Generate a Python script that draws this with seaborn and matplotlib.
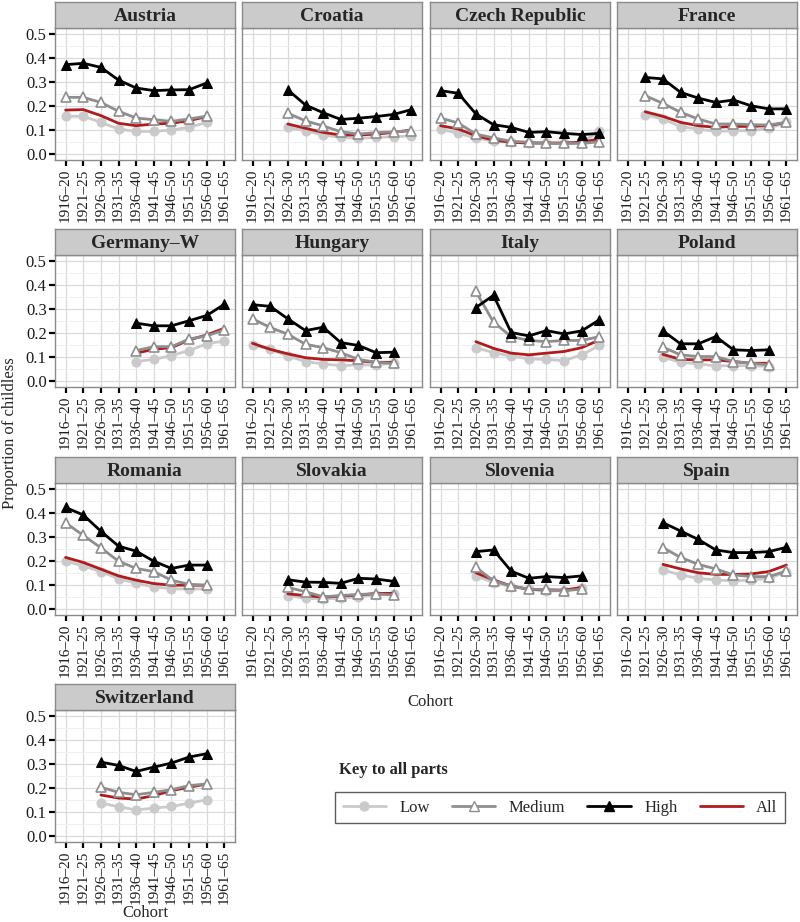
import numpy as np
import pandas as pd
import matplotlib
matplotlib.use("Agg")
import matplotlib.pyplot as plt
import seaborn as sns
from matplotlib.lines import Line2D

cohorts = ["1916–20", "1921–25", "1926–30", "1931–35", "1936–40",
           "1941–45", "1946–50", "1951–55", "1956–60", "1961–65"]
countries = ["Austria", "Croatia", "Czech Republic", "France",
             "Germany–W", "Hungary", "Italy", "Poland",
             "Romania", "Slovakia", "Slovenia", "Spain", "Switzerland"]
levels = ["Low", "Medium", "High", "All"]
yticks = [0.0, 0.1, 0.2, 0.3, 0.4, 0.5]
N = np.nan

low = {
    "Austria":        [0.158, 0.157, 0.132, 0.104, 0.094, 0.094, 0.100, 0.111, 0.132, N],
    "Croatia":        [N, N, 0.111, 0.097, 0.079, 0.069, 0.065, 0.069, 0.072, 0.075],
    "Czech Republic": [0.104, 0.086, 0.067, 0.053, 0.049, 0.044, 0.044, 0.044, 0.049, 0.094],
    "France":         [N, 0.164, 0.146, 0.114, 0.104, 0.094, 0.097, 0.097, 0.107, 0.132],
    "Germany–W":      [N, N, N, N, 0.081, 0.090, 0.106, 0.127, 0.155, 0.167],
    "Hungary":        [0.150, 0.132, 0.104, 0.081, 0.071, 0.064, 0.067, 0.067, 0.074, N],
    "Italy":          [N, N, 0.139, 0.118, 0.104, 0.092, 0.090, 0.085, 0.109, 0.148],
    "Poland":         [N, N, 0.099, 0.078, 0.071, 0.063, 0.064, 0.064, 0.060, N],
    "Romania":        [0.199, 0.180, 0.155, 0.127, 0.107, 0.092, 0.085, 0.082, 0.085, N],
    "Slovakia":       [N, N, 0.056, 0.044, 0.042, 0.044, 0.051, 0.058, 0.061, N],
    "Slovenia":       [N, N, 0.138, 0.110, 0.093, 0.082, 0.075, 0.076, 0.086, N],
    "Spain":          [N, N, 0.163, 0.142, 0.128, 0.121, 0.117, 0.121, 0.128, 0.155],
    "Switzerland":    [N, N, 0.137, 0.122, 0.109, 0.116, 0.123, 0.137, 0.151, N],
}
medium = {
    "Austria":        [0.236, 0.236, 0.215, 0.178, 0.150, 0.143, 0.136, 0.146, 0.158, N],
    "Croatia":        [N, N, 0.170, 0.138, 0.117, 0.093, 0.083, 0.089, 0.092, 0.097],
    "Czech Republic": [0.150, 0.129, 0.083, 0.067, 0.053, 0.049, 0.044, 0.044, 0.044, 0.051],
    "France":         [N, 0.243, 0.211, 0.174, 0.146, 0.125, 0.125, 0.122, 0.121, 0.132],
    "Germany–W":      [N, N, N, N, 0.127, 0.143, 0.143, 0.175, 0.188, 0.213],
    "Hungary":        [0.259, 0.223, 0.195, 0.153, 0.139, 0.118, 0.090, 0.078, 0.073, N],
    "Italy":          [N, N, 0.373, 0.245, 0.185, 0.169, 0.164, 0.169, 0.169, 0.185],
    "Poland":         [N, N, 0.141, 0.109, 0.102, 0.102, 0.081, 0.074, 0.067, N],
    "Romania":        [0.359, 0.307, 0.255, 0.199, 0.169, 0.156, 0.120, 0.103, 0.099, N],
    "Slovakia":       [N, N, 0.090, 0.072, 0.051, 0.056, 0.061, 0.063, 0.058, N],
    "Slovenia":       [N, N, 0.174, 0.117, 0.096, 0.082, 0.082, 0.076, 0.083, N],
    "Spain":          [N, N, 0.256, 0.215, 0.186, 0.167, 0.142, 0.135, 0.135, 0.158],
    "Switzerland":    [N, N, 0.203, 0.182, 0.172, 0.182, 0.193, 0.210, 0.217, N],
}
high = {
    "Austria":        [0.372, 0.378, 0.361, 0.308, 0.275, 0.264, 0.267, 0.268, 0.296, N],
    "Croatia":        [N, N, 0.267, 0.204, 0.172, 0.144, 0.149, 0.156, 0.165, 0.185],
    "Czech Republic": [0.264, 0.253, 0.167, 0.122, 0.111, 0.090, 0.093, 0.086, 0.081, 0.086],
    "France":         [N, 0.319, 0.313, 0.257, 0.233, 0.215, 0.225, 0.201, 0.188, 0.188],
    "Germany–W":      [N, N, N, N, 0.241, 0.230, 0.230, 0.251, 0.273, 0.320],
    "Hungary":        [0.318, 0.311, 0.259, 0.210, 0.224, 0.160, 0.148, 0.118, 0.120, N],
    "Italy":          [N, N, 0.306, 0.357, 0.202, 0.188, 0.210, 0.196, 0.209, 0.255],
    "Poland":         [N, N, 0.209, 0.155, 0.155, 0.185, 0.130, 0.127, 0.130, N],
    "Romania":        [0.423, 0.392, 0.324, 0.262, 0.241, 0.199, 0.169, 0.183, 0.183, N],
    "Slovakia":       [N, N, 0.122, 0.112, 0.111, 0.107, 0.128, 0.125, 0.115, N],
    "Slovenia":       [N, N, 0.239, 0.246, 0.158, 0.128, 0.135, 0.131, 0.138, N],
    "Spain":          [N, N, 0.360, 0.325, 0.290, 0.246, 0.235, 0.235, 0.239, 0.257],
    "Switzerland":    [N, N, 0.308, 0.294, 0.269, 0.287, 0.304, 0.329, 0.343, N],
}
all_ = {
    "Austria":        [0.183, 0.185, 0.160, 0.128, 0.118, 0.125, 0.128, 0.139, 0.156, N],
    "Croatia":        [N, N, 0.125, 0.107, 0.090, 0.079, 0.079, 0.083, 0.090, 0.100],
    "Czech Republic": [0.118, 0.104, 0.076, 0.058, 0.049, 0.046, 0.046, 0.046, 0.049, 0.063],
    "France":         [N, 0.176, 0.157, 0.132, 0.118, 0.111, 0.115, 0.115, 0.118, 0.132],
    "Germany–W":      [N, N, N, N, 0.116, 0.132, 0.139, 0.171, 0.192, 0.220],
    "Hungary":        [0.157, 0.132, 0.113, 0.097, 0.090, 0.088, 0.084, 0.078, 0.078, N],
    "Italy":          [N, N, 0.164, 0.136, 0.116, 0.109, 0.116, 0.123, 0.139, 0.171],
    "Poland":         [N, N, 0.111, 0.090, 0.088, 0.088, 0.081, 0.074, 0.074, N],
    "Romania":        [0.215, 0.194, 0.166, 0.138, 0.120, 0.106, 0.099, 0.099, 0.099, N],
    "Slovakia":       [N, N, 0.063, 0.056, 0.049, 0.054, 0.058, 0.065, 0.065, N],
    "Slovenia":       [N, N, 0.151, 0.121, 0.096, 0.082, 0.079, 0.079, 0.090, N],
    "Spain":          [N, N, 0.186, 0.167, 0.151, 0.144, 0.144, 0.146, 0.156, 0.183],
    "Switzerland":    [N, N, 0.171, 0.158, 0.154, 0.168, 0.189, 0.203, 0.217, N],
}

sns.set_theme(style="white")
plt.rcParams["font.family"] = ["Liberation Serif", "DejaVu Serif"]

# long table
rows = []
for lev, src in zip(levels, [low, medium, high, all_]):
    for c in countries:
        for i, v in enumerate(src[c]):
            if not np.isnan(v):
                rows.append({"country": c, "level": lev, "idx": i, "value": v})
df = pd.DataFrame(rows)

styles = {
    "Low":    dict(color="#CACACA", marker="o", markerfacecolor="#CACACA",
                   markeredgecolor="#CACACA", markersize=6.5, linewidth=2.0),
    "All":    dict(color="#B01C1C", marker=None, linewidth=2.0),
    "Medium": dict(color="#8E8E8E", marker="^", markerfacecolor="white",
                   markeredgecolor="#8E8E8E", markersize=7.5, linewidth=2.0,
                   markeredgewidth=1.2),
    "High":   dict(color="black", marker="^", markerfacecolor="black",
                   markeredgecolor="black", markersize=6.5, linewidth=2.0),
}
draw_order = ["Low", "All", "Medium", "High"]

W, H = 800, 922
fig = plt.figure(figsize=(W / 100, H / 100), dpi=100)
fig.patch.set_facecolor("white")

col_left = [55, 242, 430, 617]
row_top = [28, 255, 483, 710]
pw, ph, sh = 180, 132, 26
border = "#8A8A8A"

for k, c in enumerate(countries):
    r, col = divmod(k, 4)
    x0, y0 = col_left[col], row_top[r]
    ax = fig.add_axes([x0 / W, 1 - (y0 + ph) / H, pw / W, ph / H])
    sax = fig.add_axes([x0 / W, 1 - y0 / H, pw / W, sh / H])
    sax.set_facecolor("#CBCBCB")
    sax.set_xticks([]); sax.set_yticks([])
    for s in sax.spines.values():
        s.set_color(border); s.set_linewidth(1.0)
    sax.text(0.5, 0.45, c, ha="center", va="center", fontsize=14,
             fontweight="bold", transform=sax.transAxes)

    sub = df[df.country == c]
    for lev in draw_order:
        d = sub[sub.level == lev]
        st = dict(styles[lev])
        sns.lineplot(data=d, x="idx", y="value", ax=ax, legend=False,
                     estimator=None, zorder=3 if lev != "High" else 4, **st)

    ax.set_xlim(-0.6, 9.6)
    ax.set_ylim(-0.025, 0.525)
    ax.set_xticks(range(len(cohorts)))
    ax.set_xticklabels(cohorts, rotation=90, fontsize=11, color="#1A1A1A")
    ax.set_yticks(yticks)
    ax.set_yticks([0.05, 0.15, 0.25, 0.35, 0.45], minor=True)
    ax.grid(True, which="major", color="#DADADA", linewidth=0.9)
    ax.grid(True, which="minor", axis="y", color="#EFEFEF", linewidth=0.7)
    ax.set_axisbelow(True)
    ax.set_xlabel(""); ax.set_ylabel("")
    ax.tick_params(axis="x", which="major", length=4, width=1.6,
                   color="black", pad=2, bottom=True)
    ax.tick_params(axis="y", which="minor", length=0)
    if col == 0:
        ax.set_yticklabels([f"{t:.1f}" for t in yticks], fontsize=12,
                           color="#1A1A1A")
        ax.tick_params(axis="y", which="major", length=4, width=1.6,
                       color="black", pad=2, left=True)
    else:
        ax.set_yticklabels([])
        ax.tick_params(axis="y", which="major", length=0)
    for s in ax.spines.values():
        s.set_color(border); s.set_linewidth(1.0)

# axis titles
fig.text(10 / W, 1 - 433 / H, "Proportion of childless", rotation=90,
         ha="center", va="center", fontsize=12)
fig.text(430 / W, 1 - 702 / H, "Cohort", ha="center", va="center",
         fontsize=12)
fig.text(145 / W, 1 - 913 / H, "Cohort", ha="center", va="center",
         fontsize=12)

# legend
fig.text(339 / W, 1 - 770 / H, "Key to all parts", ha="left", va="center",
         fontsize=12, fontweight="bold")
handles = []
for lev in levels:
    st = styles[lev]
    handles.append(Line2D([], [], color=st["color"], linewidth=2.0,
                          marker=st.get("marker"),
                          markerfacecolor=st.get("markerfacecolor"),
                          markeredgecolor=st.get("markeredgecolor"),
                          markersize=st.get("markersize", 6),
                          label=lev))
leg = fig.legend(handles=handles, labels=levels, ncol=4, mode="expand",
                 loc="lower left",
                 bbox_to_anchor=(335 / W, 1 - 823 / H, 450 / W, 30 / H),
                 frameon=True, fontsize=12, handlelength=2.6,
                 borderaxespad=0, fancybox=False, borderpad=0.45)
leg.get_frame().set_edgecolor("#333333")
leg.get_frame().set_linewidth(1.0)

fig.savefig("out.png", dpi=100, facecolor="white")
